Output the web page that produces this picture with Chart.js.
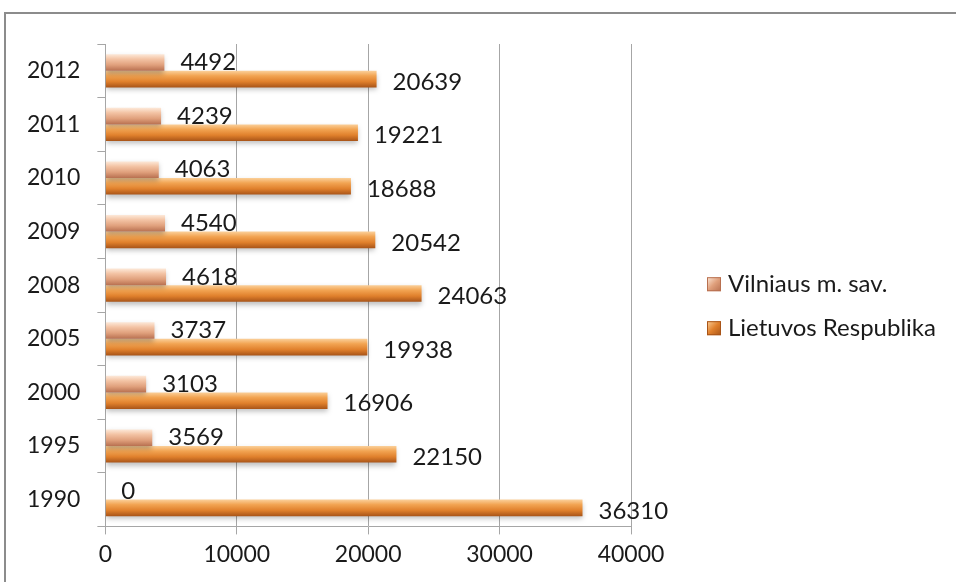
<!DOCTYPE html>
<html>
<head>
<meta charset="utf-8">
<script src="https://cdn.jsdelivr.net/npm/chart.js@4"></script>
<style>
  html, body { margin: 0; padding: 0; background: #fff; overflow: hidden; }
  #frame { position: absolute; left: 4px; top: 12px; width: 1000px; height: 1000px;
           border-top: 2px solid #8c8c8c; border-left: 2px solid #8c8c8c; }
  #wrap { position: absolute; left: 0; top: 0; width: 956px; height: 582px; }
</style>
</head>
<body>
<div id="frame"></div>
<div id="wrap"><canvas id="chart" width="956" height="582"></canvas></div>
<script>
const years = ['2012', '2011', '2010', '2009', '2008', '2005', '2000', '1995', '1990'];
const vilnius = [4492, 4239, 4063, 4540, 4618, 3737, 3103, 3569, 0];
const lietuva = [20639, 19221, 18688, 20542, 24063, 19938, 16906, 22150, 36310];
const xTicks = [0, 10000, 20000, 30000, 40000];

const FONT = "Lato, 'Open Sans', sans-serif";
const CAT_PCT = 0.62;
const BAR_PCT = 1.0;

const palettes = [
    ['#fde9d9', '#f3c3a4', '#e0a07c', '#b87050'],  // Vilniaus
    ['#fbd09a', '#f2a452', '#e0802c', '#a85418']   // Lietuvos
];

// vertical gradient per bar, based on where the y scale puts it
function barGradient(ds) {
    return function (ctx) {
        const chart = ctx.chart;
        const y = chart.scales.y;
        if (!y || ctx.dataIndex === undefined) return palettes[ds][2];
        const c = y.getPixelForValue(ctx.dataIndex);
        const cat = (y.bottom - y.top) / years.length;
        if (!isFinite(c) || !isFinite(cat) || cat <= 0) return palettes[ds][2];
        const range = cat * CAT_PCT;
        const slot = range / 2;
        const mid = c - range / 2 + slot * (ds + 0.5);
        const h = slot * BAR_PCT / 2;
        const g = chart.ctx.createLinearGradient(0, mid - h, 0, mid + h);
        const p = palettes[ds];
        g.addColorStop(0, p[0]);
        g.addColorStop(0.3, p[1]);
        g.addColorStop(0.65, p[2]);
        g.addColorStop(1, p[3]);
        return g;
    };
}

const valueLabels = {
    id: 'valueLabels',
    afterDatasetsDraw(chart) {
        const ctx = chart.ctx;
        ctx.save();
        ctx.font = '24px ' + FONT;
        ctx.fillStyle = '#1a1a1a';
        ctx.textAlign = 'left';
        ctx.textBaseline = 'middle';
        chart.data.datasets.forEach((ds, i) => {
            chart.getDatasetMeta(i).data.forEach((bar, j) => {
                const dy = i === 0 ? 0 : 3;
                ctx.fillText(String(ds.data[j]), bar.x + 16, bar.y + dy);
            });
        });
        ctx.restore();
    }
};

const barShadow = {
    id: 'barShadow',
    beforeDatasetsDraw(chart) {
        chart.ctx.save();
        chart.ctx.shadowColor = 'rgba(0,0,0,0.25)';
        chart.ctx.shadowBlur = 5;
        chart.ctx.shadowOffsetY = 3;
    },
    afterDatasetsDraw(chart) {
        chart.ctx.restore();
    }
};

// legend drawn by hand: the built-in one is capped at a quarter of the width
const sideLegend = {
    id: 'sideLegend',
    afterDraw(chart) {
        const ctx = chart.ctx;
        const x = chart.chartArea.right + 76;
        const mid = (chart.chartArea.top + chart.chartArea.bottom) / 2 + 21;
        ctx.save();
        ctx.font = '24px ' + FONT;
        ctx.textBaseline = 'middle';
        ctx.textAlign = 'left';
        chart.data.datasets.forEach((ds, i) => {
            const y = mid + (i - 0.5) * 44;
            const p = palettes[i];
            const g = ctx.createLinearGradient(x, y - 7, x + 14, y + 7);
            g.addColorStop(0, p[0]);
            g.addColorStop(0.5, p[2]);
            g.addColorStop(1, p[3]);
            ctx.fillStyle = g;
            ctx.fillRect(x, y - 7, 14, 14);
            ctx.strokeStyle = p[3];
            ctx.lineWidth = 1;
            ctx.strokeRect(x + 0.5, y - 6.5, 13, 13);
            ctx.fillStyle = '#1a1a1a';
            ctx.fillText(ds.label, x + 21, y);
        });
        ctx.restore();
    }
};

function draw() {
    new Chart(document.getElementById('chart'), {
        type: 'bar',
        data: {
            labels: years,
            datasets: [
                {
                    label: 'Vilniaus m. sav.',
                    data: vilnius,
                    backgroundColor: barGradient(0),
                    categoryPercentage: CAT_PCT,
                    barPercentage: BAR_PCT
                },
                {
                    label: 'Lietuvos Respublika',
                    data: lietuva,
                    backgroundColor: barGradient(1),
                    categoryPercentage: CAT_PCT,
                    barPercentage: BAR_PCT
                }
            ]
        },
        options: {
            indexAxis: 'y',
            responsive: false,
            animation: false,
            layout: { padding: { left: 10, top: 44, bottom: 8, right: 325 } },
            scales: {
                x: {
                    min: 0,
                    max: 40000,
                    afterBuildTicks: axis => { axis.ticks = xTicks.map(v => ({ value: v })); },
                    grid: { color: '#a6a6a6', tickLength: 8, lineWidth: 1 },
                    border: { color: '#a6a6a6' },
                    ticks: {
                        color: '#1a1a1a', font: { family: FONT, size: 23 }, padding: 6,
                        callback: v => String(v)
                    }
                },
                y: {
                    grid: { drawOnChartArea: false, color: '#a6a6a6', tickLength: 8, offset: true },
                    border: { color: '#a6a6a6' },
                    ticks: { color: '#1a1a1a', font: { family: FONT, size: 23 }, padding: 17 }
                }
            },
            plugins: {
                legend: { display: false },
                tooltip: { enabled: false }
            }
        },
        plugins: [barShadow, valueLabels, sideLegend]
    });
}

document.fonts.load('24px Lato').then(draw, draw);
</script>
</body>
</html>
